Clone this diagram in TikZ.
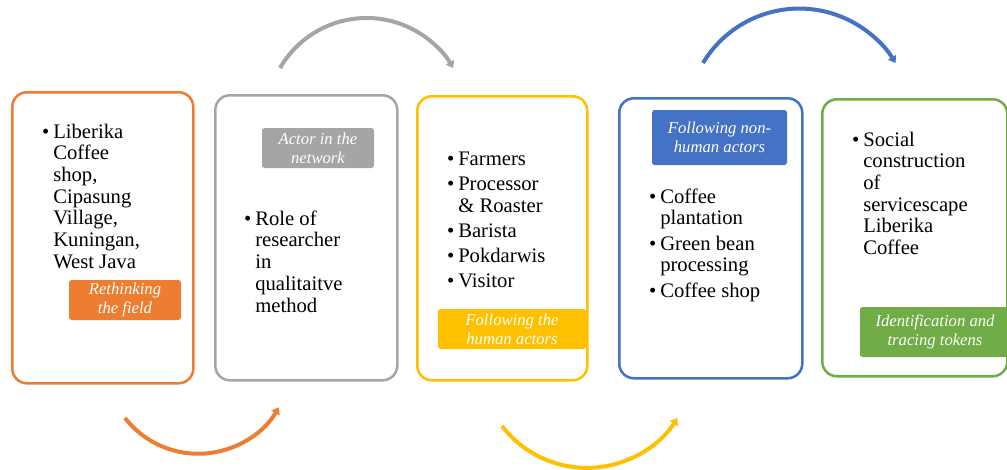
\documentclass[tikz,border=0pt]{standalone}
\usepackage{fontspec}
\setmainfont{Liberation Serif}
\usetikzlibrary{arrows.meta}
\definecolor{cOr}{HTML}{ED7D31}
\definecolor{cGr}{HTML}{A5A5A5}
\definecolor{cYe}{HTML}{FFC000}
\definecolor{cBl}{HTML}{4472C4}
\definecolor{cGn}{HTML}{70AD47}
\newcommand\itm{\makebox[0pt][r]{\textbullet\hspace{3pt}}}
\tikzset{
  panel/.style={draw=#1, line width=1.9pt, rounded corners=11pt, fill=white, inner sep=0pt, anchor=north west},
  tag/.style={fill=#1, rounded corners=2pt, text=white, font=\fontsize{12.5}{14}\selectfont\itshape, align=center, inner sep=0pt},
  body/.style={anchor=north west, inner sep=0pt, align=left, font=\fontsize{15.5}{16.3}\selectfont},
  flow/.style={draw=#1, line width=3pt, -{Triangle[length=5pt,width=7pt]}}
}
\begin{document}
\begin{tikzpicture}[x=0.75pt,y=-0.75pt]
\clip (0,0) rectangle (1007,469);
% panels
\node[panel=cOr, minimum width={181*0.75pt}, minimum height={291*0.75pt}] (p1) at (11,91) {};
\node[panel=cGr, minimum width={182*0.75pt}, minimum height={285*0.75pt}] (p2) at (214,94) {};
\node[panel=cYe, minimum width={170*0.75pt}, minimum height={284*0.75pt}] (p3) at (416,95) {};
\node[panel=cBl, minimum width={183*0.75pt}, minimum height={280*0.75pt}] (p4) at (618,97) {};
\node[panel=cGn, minimum width={185*0.75pt}, minimum height={277*0.75pt}] (p5) at (821,98) {};
% body texts
\node[body] (t1) at (53,123.4) {\itm Liberika\\Coffee\\shop,\\Cipasung\\Village,\\Kuningan,\\West Java};
\node[body] (t2) at (255,210.4) {\itm Role of\\researcher\\in\\qualitaitve\\method};
\node[body] (t3) at (458,151.4) {\itm Farmers\\[2.6pt]\itm Processor\\\& Roaster\\[2.6pt]\itm Barista\\[2.6pt]\itm Pokdarwis\\[2.6pt]\itm Visitor};
\node[body] (t4) at (660,188.4) {\itm Coffee\\plantation\\[2.6pt]\itm Green bean\\processing\\[2.6pt]\itm Coffee shop};
\node[body] (t5) at (863,131.4) {\itm Social\\construction\\of\\servicescape\\Liberika\\Coffee};
% tags
\node[tag=cOr, minimum width={112*0.75pt}, minimum height={40*0.75pt}] (l1) at (125,300) {Rethinking\\the field};
\node[tag=cGr, minimum width={112*0.75pt}, minimum height={40*0.75pt}] (l2) at (318,148) {Actor in the\\network};
\node[tag=cYe, minimum width={148*0.75pt}, minimum height={40*0.75pt}] (l3) at (512,329) {Following the\\human actors};
\node[tag=cBl, minimum width={135*0.75pt}, minimum height={55*0.75pt}] (l4) at (719.5,137.5) {Following non-\\human actors};
\node[tag=cGn, minimum width={150*0.75pt}, minimum height={50*0.75pt}] (l5) at (935,332) {Identification and\\tracing tokens};
% circular arrows
\coordinate (a1) at (125,418);
\coordinate (a2) at (280,68);
\coordinate (a3) at (502,426);
\coordinate (a4) at (703,63);
\draw[flow=cOr] (a1) arc[start angle=218, end angle=330, radius=69.75pt];
\draw[flow=cGr] (a2) arc[start angle=150, end angle=30, radius=75pt];
\draw[flow=cYe] (a3) arc[start angle=217.5, end angle=327.7, radius=80.25pt];
\draw[flow=cBl] (a4) arc[start angle=149, end angle=31, radius=84.2pt];
\end{tikzpicture}
\end{document}
